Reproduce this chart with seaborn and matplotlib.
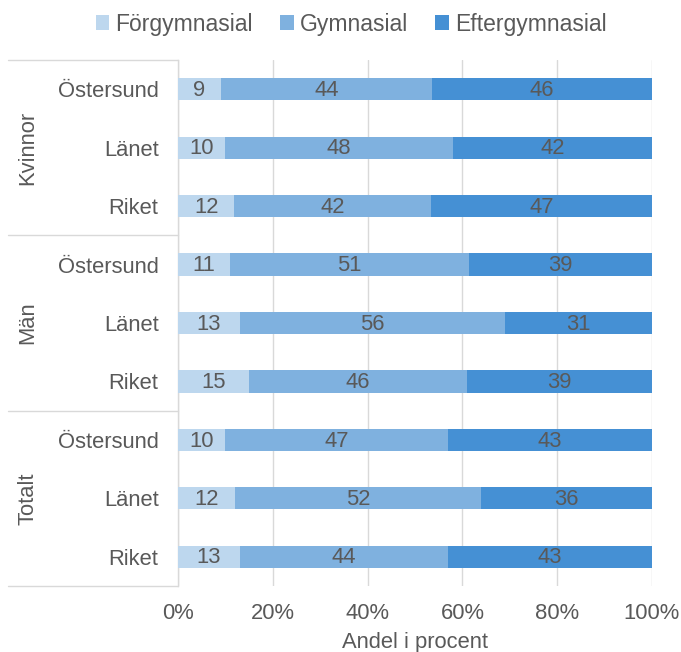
import matplotlib
matplotlib.use("Agg")
import matplotlib.pyplot as plt
import seaborn as sns
import pandas as pd
import numpy as np
from matplotlib.patches import Patch
from matplotlib.lines import Line2D

sns.set_theme(style="white")
plt.rcParams["font.family"] = ["Liberation Sans", "DejaVu Sans"]

groups = ["Kvinnor", "Män", "Totalt"]
places = ["Östersund", "Länet", "Riket"]
series = ["Förgymnasial", "Gymnasial", "Eftergymnasial"]
forgymnasial = [9, 10, 12, 11, 13, 15, 10, 12, 13]
gymnasial = [44, 48, 42, 51, 56, 46, 47, 52, 44]
eftergymnasial = [46, 42, 47, 39, 31, 39, 43, 36, 43]
colors = ["#bdd7ee", "#7fb1df", "#4590d4"]
text_color = "#595959"
grid_color = "#d9d9d9"
fs = 15.8

rows = [f"{g}|{p}" for g in groups for p in places]
vals = np.array([forgymnasial, gymnasial, eftergymnasial], dtype=float)
totals = vals.sum(axis=0)
shares = vals / totals * 100
cum = np.cumsum(shares, axis=0)

fig = plt.figure(figsize=(6.81, 6.52), dpi=100)
ax = fig.add_axes([178 / 681, 1 - 586 / 652, (652 - 178) / 681, (586 - 60) / 652])

# Stacked bars drawn back to front as cumulative totals
for k in range(2, -1, -1):
    df = pd.DataFrame({"row": rows, "end": cum[k]})
    sns.barplot(data=df, x="end", y="row", order=rows, orient="h",
                color=colors[k], saturation=1, width=0.38, ax=ax,
                edgecolor="none", linewidth=0, zorder=3)

for k in range(3):
    starts = cum[k] - shares[k]
    for i in range(len(rows)):
        ax.text(starts[i] + shares[k][i] / 2, i + 0.02, f"{int(vals[k][i])}",
                ha="center", va="center", fontsize=fs, color=text_color, zorder=4)

ax.set_xlim(0, 100)
ax.set_ylim(len(rows) - 0.5, -0.5)
ax.set_xticks(np.arange(0, 101, 20))
ax.set_xticklabels([f"{t}%" for t in range(0, 101, 20)], fontsize=fs, color=text_color)
ax.tick_params(axis="x", length=0, pad=12)
ax.set_yticks(range(len(rows)))
ax.set_yticklabels([r.split("|")[1] for r in rows], fontsize=fs, color=text_color)
ax.tick_params(axis="y", length=0, pad=14)
ax.set_ylabel("")
ax.set_xlabel("Andel i procent", fontsize=fs, color=text_color, labelpad=6)

for s in ["top", "right", "bottom"]:
    ax.spines[s].set_visible(False)
ax.spines["left"].set_color(grid_color)
ax.spines["left"].set_linewidth(1)
ax.xaxis.grid(True, color=grid_color, linewidth=1, zorder=0)
ax.set_axisbelow(True)

# Group separators and rotated group labels in the left margin
x0 = (8 - 178) / (652 - 178)
for j in range(len(groups) + 1):
    yv = j * 3 - 0.5
    ax.add_line(Line2D([x0, 0], [yv, yv], transform=ax.get_yaxis_transform(),
                       color=grid_color, linewidth=1, clip_on=False))
xg = (28 - 178) / (652 - 178)
for j, g in enumerate(groups):
    ax.text(xg, j * 3 + 1, g, transform=ax.get_yaxis_transform(), rotation=90,
            ha="center", va="center", fontsize=fs, color=text_color)

handles = [Patch(facecolor=c, edgecolor="none") for c in colors]
fig.legend(handles, series, loc="center", bbox_to_anchor=(351 / 681, 1 - 24 / 652),
           ncol=3, frameon=False, fontsize=16.5, handlelength=0.6, handleheight=0.6,
           handletextpad=0.25, columnspacing=1.2, labelcolor=text_color)

fig.savefig("out.png", dpi=100)
